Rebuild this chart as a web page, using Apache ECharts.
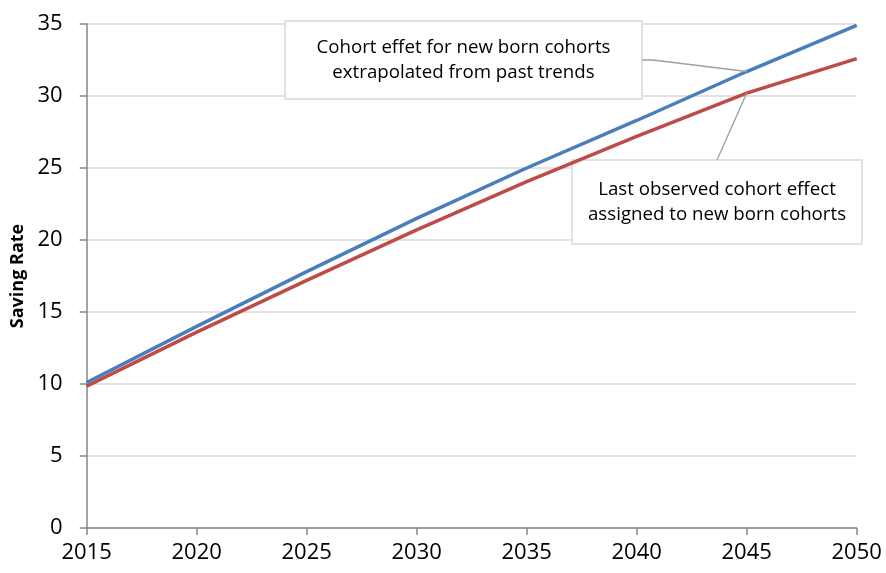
<!DOCTYPE html>
<html>
<head>
<meta charset="utf-8">
<script src="https://cdn.jsdelivr.net/npm/echarts@6/dist/echarts.min.js"></script>
<style>
  html, body { margin: 0; padding: 0; background: #fff; }
  #chart { width: 886px; height: 573px; }
</style>
</head>
<body>
<div id="chart"></div>
<script>
// Projected saving rate under two assumptions for new born cohorts
const years = [2015, 2020, 2025, 2030, 2035, 2040, 2045, 2050];
const extrapolated = [10.1, 14.0, 17.8, 21.5, 25.0, 28.3, 31.7, 34.9];
const lastObserved = [9.85, 13.6, 17.2, 20.7, 24.05, 27.2, 30.2, 32.6];
const yTicks = [0, 5, 10, 15, 20, 25, 30, 35];

const noteExtrapolated = ['Cohort effet for new born cohorts', 'extrapolated from past trends'];
const noteLastObserved = ['Last observed cohort effect', 'assigned to new born cohorts'];
const yTitle = 'Saving Rate';

const FONT = '"Open Sans", "Noto Sans", sans-serif';
const axisGrey = '#868686';

const chart = echarts.init(document.getElementById('chart'), null, { renderer: 'canvas' });

const option = {
  animation: false,
  backgroundColor: '#ffffff',
  grid: { left: 86.7, right: 29.3, top: 24, bottom: 45, containLabel: false },
  xAxis: {
    type: 'value',
    min: years[0],
    max: years[years.length - 1],
    interval: 5,
    axisLine: { show: true, onZero: false, lineStyle: { color: axisGrey, width: 1.5 } },
    axisTick: { show: true, length: 7, lineStyle: { color: axisGrey, width: 1.5 } },
    axisLabel: { color: '#000', fontFamily: FONT, fontSize: 22, margin: 14, formatter: v => String(v) },
    splitLine: { show: false }
  },
  yAxis: {
    type: 'value',
    min: yTicks[0],
    max: yTicks[yTicks.length - 1],
    interval: 5,
    name: yTitle,
    nameLocation: 'middle',
    nameGap: 60,
    nameRotate: 90,
    nameTextStyle: { color: '#000', fontFamily: FONT, fontSize: 18, fontWeight: 'bold' },
    axisLine: { show: true, lineStyle: { color: axisGrey, width: 1.5 } },
    axisTick: { show: true, length: 7, lineStyle: { color: axisGrey, width: 1.5 } },
    axisLabel: { color: '#000', fontFamily: FONT, fontSize: 22, margin: 24, formatter: v => String(v) },
    splitLine: { show: true, lineStyle: { color: '#d9d9d9', width: 1.5 } }
  },
  series: [
    {
      name: 'Extrapolated',
      type: 'line',
      data: years.map((y, i) => [y, extrapolated[i]]),
      showSymbol: false,
      lineStyle: { color: '#4A7EBB', width: 3.5 },
      itemStyle: { color: '#4A7EBB' },
      z: 3
    },
    {
      name: 'Last observed',
      type: 'line',
      data: years.map((y, i) => [y, lastObserved[i]]),
      showSymbol: false,
      lineStyle: { color: '#BE4B48', width: 3.5 },
      itemStyle: { color: '#BE4B48' },
      z: 2
    }
  ]
};

chart.setOption(option);

// Callout boxes with leader lines pointing at the 2045 values
const iNote = years.indexOf(2045);
const pBlue = chart.convertToPixel({ gridIndex: 0 }, [years[iNote], extrapolated[iNote]]);
const pRed = chart.convertToPixel({ gridIndex: 0 }, [years[iNote], lastObserved[iNote]]);

const box1 = { x: 285, y: 21, w: 357, h: 78 };
const box2 = { x: 572, y: 160, w: 290, h: 84 };

function noteBox(b, lines) {
  return {
    type: 'group',
    z: 10,
    children: [
      {
        type: 'rect',
        shape: { x: b.x, y: b.y, width: b.w, height: b.h },
        style: { fill: '#ffffff', stroke: '#d9d9d9', lineWidth: 1.5 }
      },
      {
        type: 'text',
        x: b.x + b.w / 2,
        y: b.y + b.h / 2,
        style: {
          text: lines.join('\n'),
          fill: '#000',
          font: '18.7px ' + FONT,
          lineHeight: 25,
          align: 'center',
          verticalAlign: 'middle'
        }
      }
    ]
  };
}

chart.setOption({
  graphic: [
    {
      type: 'polyline',
      z: 9,
      shape: { points: [[box1.x + box1.w, box1.y + 39], [box1.x + box1.w + 11, box1.y + 39], pBlue] },
      style: { stroke: '#a0a0a0', lineWidth: 1.3, fill: null }
    },
    {
      type: 'line',
      z: 9,
      shape: { x1: 717, y1: box2.y, x2: pRed[0], y2: pRed[1] },
      style: { stroke: '#a0a0a0', lineWidth: 1.3 }
    },
    noteBox(box1, noteExtrapolated),
    noteBox(box2, noteLastObserved)
  ]
});
</script>
</body>
</html>
